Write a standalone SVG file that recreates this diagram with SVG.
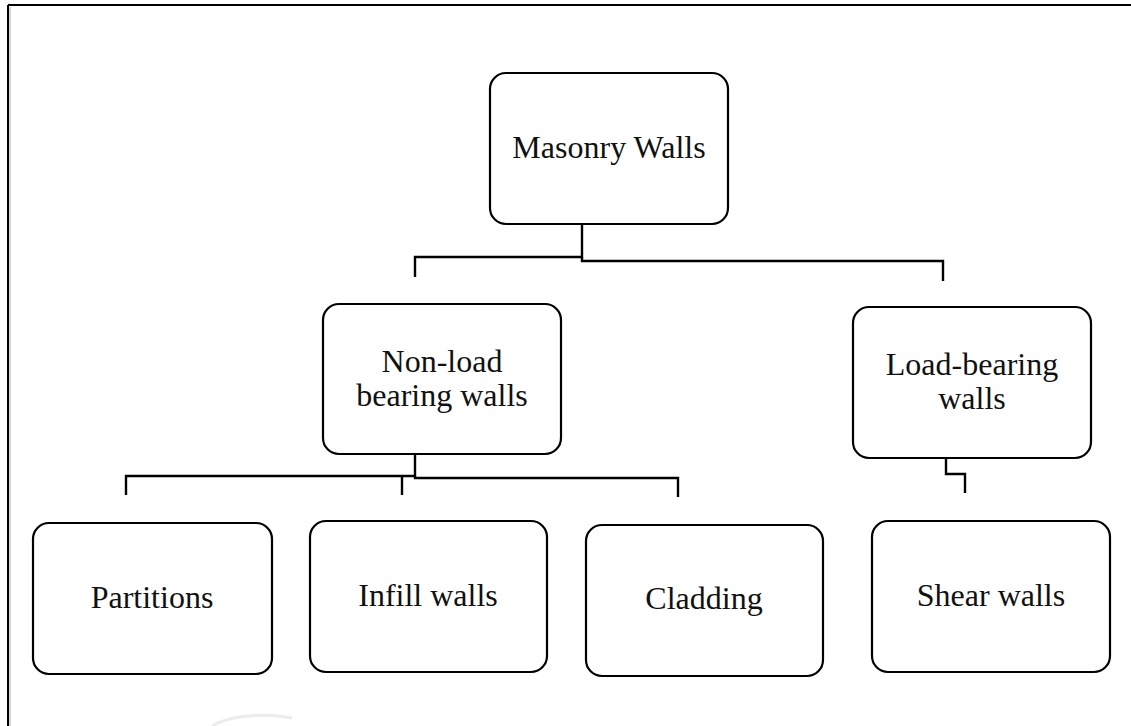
<svg xmlns="http://www.w3.org/2000/svg" width="1131" height="726" viewBox="0 0 1131 726">
  <style>
    .box { fill: #ffffff; stroke: #000000; stroke-width: 2.2; }
    .label { font-family: 'Liberation Serif', 'Times New Roman', 'DejaVu Serif', serif; font-size: 32px; fill: #111111; text-anchor: middle; }
    .link { fill: none; stroke: #000000; stroke-width: 2.4; stroke-linejoin: miter; }
    .stub { fill: none; stroke: #d4d4d4; stroke-width: 1.5; }
    .frame { fill: none; stroke: #000000; stroke-width: 2; }
  </style>
  <rect x="0" y="0" width="1131" height="726" fill="#ffffff"/>

  <!-- page frame -->
  <g id="frame">
    <line class="frame" x1="8" y1="5" x2="1131" y2="5"/>
    <line class="frame" x1="8" y1="5" x2="8" y2="726"/>
    <line x1="10" y1="7" x2="10" y2="726" stroke="#b0b0b0" stroke-width="1"/>
    <path d="M 212 726 A 60 22 0 0 1 292 718" fill="none" stroke="#ececec" stroke-width="3"/>
  </g>

  <!-- connectors -->
  <g id="connectors">
    <line class="stub" x1="582" y1="203" x2="582" y2="224"/>
    <path class="link" d="M 582 224 V 257 H 415 V 277"/>
    <path class="link" d="M 582 257 V 261 H 943 V 281"/>

    <line class="stub" x1="415" y1="433" x2="415" y2="454"/>
    <path class="link" d="M 415 454 V 476 H 126 V 495"/>
    <path class="link" d="M 415 476 V 478 H 678 V 497"/>
    <path class="link" d="M 402 476 V 495"/>

    <line class="stub" x1="946" y1="433" x2="946" y2="458"/>
    <path class="link" d="M 946 458 V 474 H 965 V 493"/>
  </g>

  <g id="masonry-walls">
    <rect class="box" x="490" y="73" width="238" height="151" rx="16"/>
    <text class="label" x="609" y="158">Masonry Walls</text>
  </g>

  <g id="non-load-bearing">
    <rect class="box" x="323" y="304" width="238" height="150" rx="16"/>
    <text class="label" x="442" y="372">Non-load</text>
    <text class="label" x="442" y="406">bearing walls</text>
  </g>

  <g id="load-bearing">
    <rect class="box" x="853" y="307" width="238" height="151" rx="16"/>
    <text class="label" x="972" y="375">Load-bearing</text>
    <text class="label" x="972" y="409">walls</text>
  </g>

  <g id="partitions">
    <rect class="box" x="33" y="523" width="239" height="151" rx="16"/>
    <text class="label" x="152" y="608">Partitions</text>
  </g>

  <g id="infill-walls">
    <rect class="box" x="310" y="521" width="237" height="151" rx="16"/>
    <text class="label" x="428" y="606">Infill walls</text>
  </g>

  <g id="cladding">
    <rect class="box" x="586" y="525" width="237" height="151" rx="16"/>
    <text class="label" x="704" y="609">Cladding</text>
  </g>

  <g id="shear-walls">
    <rect class="box" x="872" y="521" width="238" height="151" rx="16"/>
    <text class="label" x="991" y="606">Shear walls</text>
  </g>
</svg>
